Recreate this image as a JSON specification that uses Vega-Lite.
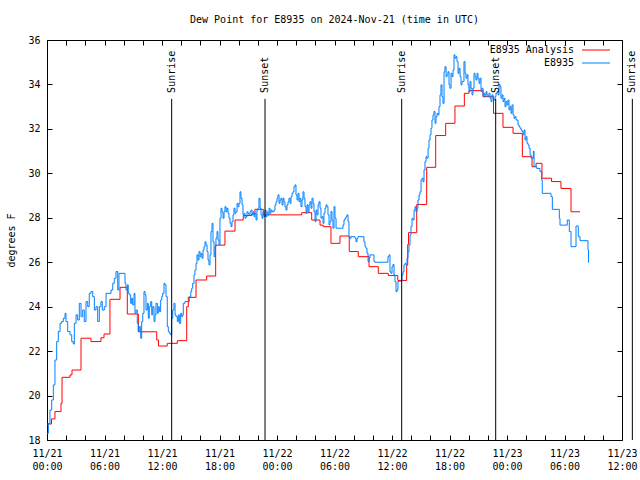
{
  "$schema": "https://vega.github.io/schema/vega-lite/v6.json",
  "width": 575,
  "height": 400,
  "autosize": "none",
  "padding": {"left": 47, "top": 40, "right": 18, "bottom": 40},
  "background": "white",
  "title": {"text": "Dew Point for E8935 on 2024-Nov-21 (time in UTC)", "offset": 10},
  "config": {
    "font": "DejaVu Sans Mono",
    "view": {"stroke": "black", "strokeWidth": 1},
    "title": {"font": "DejaVu Sans Mono", "fontSize": 10, "fontWeight": "normal", "color": "black", "anchor": "middle"},
    "axis": {"labelFont": "DejaVu Sans Mono", "labelFontSize": 10, "labelColor": "black", "ticks": false, "domain": false, "grid": true, "gridColor": "#000000", "gridOpacity": 1, "gridWidth": 1, "titleFont": "DejaVu Sans Mono", "titleFontSize": 10, "titleFontWeight": "normal", "titleColor": "black"},
    "legend": {"labelFont": "DejaVu Sans Mono", "labelFontSize": 10, "labelColor": "black"}
  },
  "datasets": {
    "analysis": [
      {"hr":0,"dp":18.72},{"hr":0.47,"dp":18.95},{"hr":0.83,"dp":19.28},{"hr":1.46,"dp":19.65},{"hr":1.57,"dp":20.82},{"hr":2.40,"dp":20.93},{"hr":2.61,"dp":21.15},{"hr":3.55,"dp":22.58},{"hr":4.59,"dp":22.43},{"hr":5.63,"dp":22.6},{"hr":5.95,"dp":22.77},{"hr":6.57,"dp":24.33},{"hr":7.62,"dp":24.87},{"hr":8.38,"dp":23.67},{"hr":9.53,"dp":22.87},{"hr":11.45,"dp":22.5},{"hr":11.63,"dp":22.23},{"hr":12.55,"dp":22.35},{"hr":13.60,"dp":22.47},{"hr":14.58,"dp":24.0},{"hr":14.74,"dp":24.42},{"hr":15.55,"dp":25.2},{"hr":16.66,"dp":25.38},{"hr":17.60,"dp":26.77},{"hr":18.57,"dp":27.4},{"hr":19.62,"dp":27.9},{"hr":20.48,"dp":28.1},{"hr":21.36,"dp":28.17},{"hr":21.70,"dp":28.38},{"hr":22.57,"dp":28.13},{"hr":26.58,"dp":28.23},{"hr":27.62,"dp":27.9},{"hr":28.49,"dp":27.67},{"hr":28.83,"dp":27.6},{"hr":29.63,"dp":26.85},{"hr":30.57,"dp":27.18},{"hr":31.54,"dp":26.48},{"hr":32.48,"dp":26.25},{"hr":33.60,"dp":25.8},{"hr":34.57,"dp":25.5},{"hr":35.61,"dp":25.4},{"hr":36.60,"dp":25.18},{"hr":37.53,"dp":25.87},{"hr":37.64,"dp":26.8},{"hr":37.72,"dp":27.33},{"hr":38.58,"dp":28.6},{"hr":39.62,"dp":30.27},{"hr":40.56,"dp":31.7},{"hr":41.60,"dp":32.25},{"hr":42.57,"dp":33.03},{"hr":43.55,"dp":33.6},{"hr":44.04,"dp":33.72},{"hr":45.50,"dp":33.45},{"hr":46.59,"dp":32.7},{"hr":47.58,"dp":32.07},{"hr":48.63,"dp":31.8},{"hr":49.60,"dp":30.75},{"hr":50.61,"dp":30.3},{"hr":51.03,"dp":30.45},{"hr":51.65,"dp":29.78},{"hr":52.64,"dp":29.63},{"hr":53.63,"dp":29.32},{"hr":54.68,"dp":28.27},{"hr":55.62,"dp":28.27}
    ],
    "obs": [
      {"hr":0,"dp":18.3},{"hr":0.14,"dp":18.75},{"hr":0.31,"dp":19.35},{"hr":0.49,"dp":19.8},{"hr":0.66,"dp":20.48},{"hr":0.83,"dp":21.6},{"hr":1.01,"dp":22.43},{"hr":1.18,"dp":22.88},{"hr":1.36,"dp":23.25},{"hr":1.53,"dp":23.33},{"hr":1.70,"dp":23.48},{"hr":1.88,"dp":23.7},{"hr":1.98,"dp":23.33},{"hr":2.16,"dp":22.88},{"hr":2.40,"dp":22.73},{"hr":2.58,"dp":22.43},{"hr":2.74,"dp":22.32},{"hr":2.85,"dp":23.25},{"hr":3.03,"dp":23.63},{"hr":3.20,"dp":23.4},{"hr":3.37,"dp":24.15},{"hr":3.55,"dp":23.55},{"hr":3.73,"dp":23.85},{"hr":3.89,"dp":23.33},{"hr":4.07,"dp":24.23},{"hr":4.25,"dp":24.0},{"hr":4.41,"dp":24.6},{"hr":4.59,"dp":24.68},{"hr":4.77,"dp":24.45},{"hr":4.94,"dp":23.85},{"hr":5.11,"dp":24.0},{"hr":5.29,"dp":23.33},{"hr":5.46,"dp":24.0},{"hr":5.63,"dp":24.23},{"hr":5.77,"dp":23.85},{"hr":5.98,"dp":24.0},{"hr":6.16,"dp":24.6},{"hr":6.68,"dp":24.75},{"hr":6.86,"dp":25.05},{"hr":7.02,"dp":25.28},{"hr":7.20,"dp":25.58},{"hr":7.38,"dp":24.75},{"hr":7.51,"dp":25.5},{"hr":8.14,"dp":25.05},
      {"hr":8.24,"dp":24.75},{"hr":8.38,"dp":24.98},{"hr":8.48,"dp":24.6},{"hr":8.59,"dp":24.53},{"hr":8.73,"dp":24.15},{"hr":8.84,"dp":24.38},{"hr":8.94,"dp":24.08},{"hr":9.08,"dp":24.6},{"hr":9.18,"dp":23.7},{"hr":9.29,"dp":23.85},{"hr":9.42,"dp":23.25},{"hr":9.53,"dp":22.88},{"hr":9.63,"dp":23.1},{"hr":9.78,"dp":22.58},{"hr":9.88,"dp":23.33},{"hr":9.99,"dp":23.7},{"hr":10.12,"dp":24.68},{"hr":10.23,"dp":24.53},{"hr":10.33,"dp":23.85},{"hr":10.47,"dp":24.15},{"hr":10.57,"dp":23.48},{"hr":10.67,"dp":24.0},{"hr":10.82,"dp":24.23},{"hr":10.93,"dp":23.63},{"hr":11.03,"dp":24.0},{"hr":11.17,"dp":23.33},{"hr":11.27,"dp":23.63},{"hr":11.37,"dp":24.15},{"hr":11.51,"dp":23.7},{"hr":11.61,"dp":24.0},{"hr":11.72,"dp":23.78},{"hr":11.86,"dp":24.3},{"hr":11.97,"dp":24.45},{"hr":12.07,"dp":24.6},{"hr":12.21,"dp":25.05},{"hr":12.31,"dp":24.98},{"hr":12.42,"dp":24.45},{"hr":12.55,"dp":23.1},{"hr":12.66,"dp":22.88},{"hr":12.76,"dp":22.8},{"hr":12.91,"dp":22.73},{"hr":13.01,"dp":23.48},{"hr":13.12,"dp":23.85},{"hr":13.25,"dp":24.15},{"hr":13.36,"dp":23.63},{"hr":13.46,"dp":23.55},{"hr":13.60,"dp":23.33},{"hr":13.70,"dp":23.63},{"hr":13.81,"dp":23.25},{"hr":13.95,"dp":23.7},{"hr":14.06,"dp":23.55},{"hr":14.16,"dp":23.63},{"hr":14.22,"dp":24.15},{"hr":14.40,"dp":24.23},{"hr":14.85,"dp":24.45},{"hr":15.00,"dp":24.68},{"hr":15.10,"dp":24.83},{"hr":15.20,"dp":25.05},{"hr":15.34,"dp":25.43},{"hr":15.44,"dp":25.65},
      {"hr":15.55,"dp":25.95},{"hr":15.65,"dp":26.33},{"hr":15.76,"dp":26.1},{"hr":15.86,"dp":26.48},{"hr":15.97,"dp":26.25},{"hr":16.07,"dp":26.4},{"hr":16.17,"dp":26.18},{"hr":16.28,"dp":26.55},{"hr":16.38,"dp":26.7},{"hr":16.49,"dp":26.92},{"hr":16.59,"dp":26.78},{"hr":16.70,"dp":26.48},{"hr":16.80,"dp":26.1},{"hr":16.90,"dp":25.88},{"hr":17.01,"dp":26.33},{"hr":17.11,"dp":27.38},{"hr":17.22,"dp":27.75},{"hr":17.32,"dp":26.92},{"hr":17.43,"dp":26.25},{"hr":17.53,"dp":26.7},{"hr":17.63,"dp":27.08},{"hr":17.74,"dp":27.38},{"hr":17.84,"dp":27.0},{"hr":17.95,"dp":26.78},{"hr":18.05,"dp":27.98},{"hr":18.16,"dp":28.43},{"hr":18.26,"dp":28.27},{"hr":18.37,"dp":27.98},{"hr":18.47,"dp":28.27},{"hr":18.57,"dp":28.5},{"hr":18.68,"dp":28.27},{"hr":18.78,"dp":28.43},{"hr":18.89,"dp":28.2},{"hr":18.99,"dp":27.98},{"hr":19.10,"dp":27.75},{"hr":19.20,"dp":27.6},{"hr":19.30,"dp":27.83},{"hr":19.41,"dp":28.13},{"hr":19.51,"dp":28.43},{"hr":19.62,"dp":28.2},{"hr":19.72,"dp":28.27},{"hr":19.83,"dp":28.65},{"hr":19.93,"dp":28.5},{"hr":20.03,"dp":28.65},{"hr":20.14,"dp":29.17},{"hr":20.24,"dp":28.88},{"hr":20.35,"dp":28.58},{"hr":20.45,"dp":28.13},{"hr":20.56,"dp":28.2},{"hr":20.66,"dp":27.98},{"hr":20.77,"dp":28.05},{"hr":20.87,"dp":28.27},{"hr":20.97,"dp":28.2},{"hr":21.08,"dp":28.13},{"hr":21.18,"dp":28.27},{"hr":21.29,"dp":28.35},{"hr":21.39,"dp":28.13},{"hr":21.50,"dp":28.27},{"hr":21.60,"dp":28.05},{"hr":21.70,"dp":28.2},{"hr":21.81,"dp":27.9},{"hr":21.91,"dp":28.35},{"hr":22.02,"dp":28.43},{"hr":22.12,"dp":28.88},{"hr":22.23,"dp":28.43},
      {"hr":22.33,"dp":28.13},{"hr":22.43,"dp":27.98},{"hr":22.54,"dp":28.27},{"hr":22.64,"dp":28.05},{"hr":22.75,"dp":28.35},{"hr":22.85,"dp":28.05},{"hr":22.96,"dp":28.27},{"hr":23.06,"dp":28.13},{"hr":23.17,"dp":28.43},{"hr":23.27,"dp":28.2},{"hr":23.37,"dp":28.35},{"hr":23.48,"dp":28.27},{"hr":23.69,"dp":28.35},{"hr":23.79,"dp":28.58},{"hr":23.90,"dp":28.72},{"hr":24.00,"dp":28.88},{"hr":24.10,"dp":29.03},{"hr":24.21,"dp":28.65},{"hr":24.31,"dp":28.8},{"hr":24.42,"dp":28.88},{"hr":24.52,"dp":28.58},{"hr":24.63,"dp":28.88},{"hr":24.73,"dp":28.72},{"hr":24.83,"dp":28.5},{"hr":24.94,"dp":28.35},{"hr":25.04,"dp":28.58},{"hr":25.15,"dp":28.72},{"hr":25.25,"dp":28.88},{"hr":25.36,"dp":28.65},{"hr":25.46,"dp":28.95},{"hr":25.57,"dp":29.1},{"hr":25.67,"dp":29.17},{"hr":25.77,"dp":29.4},{"hr":25.88,"dp":29.48},{"hr":25.98,"dp":29.03},{"hr":26.09,"dp":28.8},{"hr":26.19,"dp":29.1},{"hr":26.30,"dp":28.72},{"hr":26.40,"dp":28.88},{"hr":26.50,"dp":28.5},{"hr":26.61,"dp":28.8},{"hr":26.71,"dp":29.17},{"hr":26.82,"dp":28.88},{"hr":26.92,"dp":28.5},{"hr":27.03,"dp":28.2},{"hr":27.13,"dp":28.58},{"hr":27.24,"dp":28.27},{"hr":27.34,"dp":28.58},{"hr":27.44,"dp":28.72},{"hr":27.55,"dp":28.43},{"hr":27.65,"dp":28.88},{"hr":27.76,"dp":28.65},{"hr":27.86,"dp":28.27},{"hr":27.97,"dp":27.83},{"hr":28.07,"dp":28.35},{"hr":28.17,"dp":28.13},{"hr":28.28,"dp":28.58},{"hr":28.38,"dp":28.72},{"hr":28.49,"dp":28.43},{"hr":28.59,"dp":27.98},{"hr":28.70,"dp":28.05},{"hr":28.80,"dp":27.75},{"hr":28.90,"dp":28.2},{"hr":29.01,"dp":28.43},{"hr":29.11,"dp":28.58},{"hr":29.22,"dp":28.5},{"hr":29.32,"dp":28.13},{"hr":29.43,"dp":27.68},
      {"hr":29.53,"dp":27.83},{"hr":29.63,"dp":28.28},{"hr":29.74,"dp":27.9},{"hr":29.84,"dp":27.53},{"hr":29.95,"dp":28.5},{"hr":30.05,"dp":27.98},{"hr":30.16,"dp":27.53},{"hr":30.89,"dp":27.68},{"hr":30.99,"dp":27.9},{"hr":31.10,"dp":27.98},{"hr":31.20,"dp":28.05},{"hr":31.30,"dp":28.13},{"hr":31.41,"dp":27.83},{"hr":31.51,"dp":27.15},{"hr":31.62,"dp":27.08},{"hr":31.72,"dp":27.15},{"hr":32.14,"dp":27.08},{"hr":32.24,"dp":26.92},{"hr":32.35,"dp":27.08},{"hr":32.45,"dp":27.15},{"hr":33.07,"dp":26.92},{"hr":33.18,"dp":26.7},{"hr":33.28,"dp":26.63},{"hr":33.39,"dp":26.4},{"hr":33.50,"dp":26.03},{"hr":33.60,"dp":26.18},{"hr":33.70,"dp":26.33},{"hr":34.12,"dp":26.03},{"hr":34.23,"dp":26.0},{"hr":35.58,"dp":26.25},{"hr":35.69,"dp":26.33},{"hr":35.79,"dp":25.57},{"hr":35.90,"dp":25.5},{"hr":36.00,"dp":25.8},{"hr":36.10,"dp":25.9},{"hr":36.21,"dp":25.43},{"hr":36.31,"dp":25.13},{"hr":36.42,"dp":24.67},{"hr":36.52,"dp":24.75},{"hr":36.62,"dp":25.13},{"hr":36.73,"dp":25.15},{"hr":37.04,"dp":25.43},
      {"hr":37.15,"dp":25.57},{"hr":37.25,"dp":25.88},{"hr":37.36,"dp":25.95},{"hr":37.46,"dp":25.88},{"hr":37.57,"dp":26.18},{"hr":37.67,"dp":26.47},{"hr":37.77,"dp":26.77},{"hr":37.88,"dp":27.23},{"hr":37.98,"dp":27.6},{"hr":38.09,"dp":27.98},{"hr":38.19,"dp":27.9},{"hr":38.30,"dp":28.35},{"hr":38.40,"dp":28.5},{"hr":38.50,"dp":28.27},{"hr":38.61,"dp":28.43},{"hr":38.71,"dp":28.8},{"hr":38.82,"dp":29.03},{"hr":38.92,"dp":29.17},{"hr":39.03,"dp":29.7},{"hr":39.13,"dp":29.78},{"hr":39.24,"dp":29.62},{"hr":39.34,"dp":30.15},{"hr":39.44,"dp":30.52},{"hr":39.55,"dp":30.75},{"hr":39.65,"dp":30.68},{"hr":39.76,"dp":31.13},{"hr":39.86,"dp":31.5},{"hr":39.97,"dp":31.73},{"hr":40.07,"dp":32.03},{"hr":40.17,"dp":32.4},{"hr":40.28,"dp":32.63},{"hr":40.38,"dp":32.78},{"hr":40.49,"dp":32.25},{"hr":40.59,"dp":32.55},{"hr":40.70,"dp":32.7},{"hr":40.80,"dp":32.63},{"hr":40.90,"dp":33.0},{"hr":41.01,"dp":33.53},{"hr":41.11,"dp":33.98},{"hr":41.22,"dp":33.45},{"hr":41.32,"dp":33.15},{"hr":41.43,"dp":34.57},{"hr":41.53,"dp":34.8},{"hr":41.64,"dp":34.35},{"hr":41.74,"dp":34.43},{"hr":41.84,"dp":34.57},{"hr":41.95,"dp":33.98},{"hr":42.05,"dp":33.83},{"hr":42.16,"dp":34.5},{"hr":42.26,"dp":34.35},{"hr":42.37,"dp":34.65},{"hr":42.47,"dp":35.33},{"hr":42.57,"dp":35.18},{"hr":42.68,"dp":35.25},{"hr":42.78,"dp":35.03},{"hr":42.89,"dp":34.5},{"hr":42.99,"dp":34.73},{"hr":43.10,"dp":34.35},{"hr":43.20,"dp":33.98},{"hr":43.30,"dp":34.13},{"hr":43.51,"dp":35.03},
      {"hr":43.62,"dp":34.5},{"hr":43.72,"dp":34.28},{"hr":43.83,"dp":34.43},{"hr":43.93,"dp":33.98},{"hr":44.03,"dp":33.68},{"hr":44.14,"dp":34.13},{"hr":44.24,"dp":33.83},{"hr":44.35,"dp":33.53},{"hr":44.45,"dp":33.83},{"hr":44.56,"dp":34.5},{"hr":44.66,"dp":34.35},{"hr":44.76,"dp":34.2},{"hr":44.87,"dp":34.5},{"hr":44.97,"dp":34.28},{"hr":45.08,"dp":34.05},{"hr":45.18,"dp":34.28},{"hr":45.29,"dp":33.68},{"hr":45.39,"dp":33.83},{"hr":45.50,"dp":33.45},{"hr":45.60,"dp":33.6},{"hr":45.70,"dp":33.45},{"hr":45.81,"dp":33.68},{"hr":45.91,"dp":33.53},{"hr":46.02,"dp":33.45},{"hr":46.12,"dp":33.6},{"hr":46.23,"dp":33.38},{"hr":46.33,"dp":33.23},{"hr":46.43,"dp":33.53},{"hr":46.54,"dp":33.38},{"hr":46.64,"dp":33.3},{"hr":46.75,"dp":33.45},{"hr":46.85,"dp":33.6},{"hr":46.96,"dp":33.68},{"hr":47.06,"dp":33.53},{"hr":47.17,"dp":34.0},{"hr":47.27,"dp":33.9},{"hr":47.37,"dp":33.38},{"hr":47.48,"dp":33.53},{"hr":47.58,"dp":33.23},{"hr":47.69,"dp":33.38},{"hr":47.79,"dp":33.0},{"hr":47.90,"dp":33.23},{"hr":48.00,"dp":33.08},{"hr":48.10,"dp":33.3},{"hr":48.21,"dp":32.85},{"hr":48.31,"dp":33.0},{"hr":48.42,"dp":32.7},{"hr":48.52,"dp":33.08},{"hr":48.63,"dp":32.63},{"hr":48.73,"dp":32.48},{"hr":48.84,"dp":32.55},{"hr":48.94,"dp":32.4},{"hr":49.15,"dp":32.18},{"hr":49.26,"dp":32.1},{"hr":49.36,"dp":32.03},{"hr":49.47,"dp":31.95},{"hr":49.57,"dp":31.88},{"hr":49.68,"dp":31.73},{"hr":49.78,"dp":31.95},{"hr":49.88,"dp":31.5},{"hr":49.99,"dp":31.65},{"hr":50.09,"dp":31.35},{"hr":50.20,"dp":31.28},{"hr":50.30,"dp":31.13},{"hr":50.41,"dp":30.83},
      {"hr":50.51,"dp":30.68},{"hr":50.75,"dp":31.0},{"hr":50.82,"dp":30.3},{"hr":51.10,"dp":30.22},{"hr":51.44,"dp":30.08},{"hr":51.62,"dp":29.7},{"hr":51.68,"dp":29.1},{"hr":52.59,"dp":28.95},{"hr":52.73,"dp":28.38},{"hr":53.46,"dp":27.98},{"hr":53.53,"dp":27.67},{"hr":54.29,"dp":27.9},{"hr":54.50,"dp":27.38},{"hr":54.68,"dp":26.7},{"hr":55.20,"dp":27.63},{"hr":55.44,"dp":27.15},{"hr":55.62,"dp":26.97},{"hr":56.45,"dp":26.55},{"hr":56.50,"dp":25.98}
    ],
    "sun": [
      {"hr":13.01,"event":"Sunrise"},{"hr":22.75,"event":"Sunset"},{"hr":37.01,"event":"Sunrise"},{"hr":46.82,"event":"Sunset"},{"hr":61.08,"event":"Sunrise"}
    ]
  },
  "resolve": {"axis": {"x": "independent", "y": "independent"}},
  "layer": [
    {
      "data": {"name": "analysis"},
      "mark": {"type": "line", "interpolate": "step-after", "strokeWidth": 1},
      "encoding": {
        "x": {"field": "hr", "type": "quantitative", "scale": {"domain": [0, 60], "nice": false, "zero": false},
          "axis": {"orient": "bottom", "title": null, "grid": true, "gridColor": "#000000", "gridDash": [5, 390, 5, 1000], "values": [0,2,4,6,8,10,12,14,16,18,20,22,24,26,28,30,32,34,36,38,40,42,44,46,48,50,52,54,56,58,60],
            "labelExpr": "datum.value % 6 == 0 ? ['11/' + (21 + floor(datum.value / 24)), (datum.value % 24 < 10 ? '0' : '') + (datum.value % 24) + ':00'] : ''",
            "labelOverlap": false, "labelFlush": false, "labelBound": false, "labelPadding": 8, "labelLineHeight": 13}},
        "y": {"field": "dp", "type": "quantitative", "scale": {"domain": [18, 36], "nice": false, "zero": false},
          "axis": {"orient": "left", "title": "degrees F", "grid": true, "gridColor": "#000000", "gridDash": [5, 565, 5, 1000], "values": [18,20,22,24,26,28,30,32,34,36], "labelPadding": 7, "titlePadding": 11, "labelFlush": false, "labelBound": false}},
        "color": {"datum": "E8935 Analysis", "type": "nominal",
          "scale": {"domain": ["E8935 Analysis", "E8935"], "range": ["#ff0000", "#0080ff"]},
          "legend": {"title": null, "orient": "none", "legendX": 543.5, "legendY": 4.5, "symbolType": "M-2.8,0H2.8", "symbolSize": 100, "symbolStrokeWidth": 1, "labelAlign": "right", "labelOffset": -27.5, "rowPadding": 2, "padding": 0}}
      }
    },
    {
      "data": {"name": "obs"},
      "mark": {"type": "line", "interpolate": "step-after", "strokeWidth": 1},
      "encoding": {
        "x": {"field": "hr", "type": "quantitative", "axis": null},
        "y": {"field": "dp", "type": "quantitative", "axis": null},
        "color": {"datum": "E8935", "type": "nominal"}
      }
    },
    {
      "data": {"name": "sun"},
      "mark": {"type": "rule", "color": "black", "strokeWidth": 1, "clip": false},
      "encoding": {
        "x": {"field": "hr", "type": "quantitative", "axis": null},
        "y": {"datum": 33.35, "type": "quantitative", "axis": null},
        "y2": {"datum": 18}
      }
    },
    {
      "data": {"name": "sun"},
      "mark": {"type": "text", "angle": 270, "align": "left", "baseline": "middle", "fontSize": 10, "font": "DejaVu Sans Mono", "color": "black", "clip": false},
      "encoding": {
        "x": {"field": "hr", "type": "quantitative", "axis": null},
        "y": {"datum": 33.62, "type": "quantitative", "axis": null},
        "text": {"field": "event"}
      }
    }
  ]
}
